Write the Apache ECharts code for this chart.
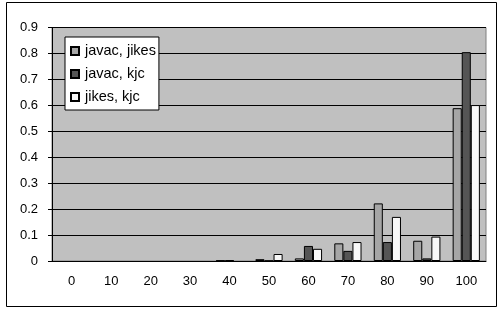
<!DOCTYPE html>
<html>
<head>
<meta charset="utf-8">
<script src="https://cdn.jsdelivr.net/npm/echarts@6/dist/echarts.min.js"></script>
<style>
  html, body { margin: 0; padding: 0; background: #fff; }
  #chart { width: 501px; height: 309px; }
</style>
</head>
<body>
<div id="chart"></div>
<script>
var categories = ['0', '10', '20', '30', '40', '50', '60', '70', '80', '90', '100'];
var javacJikes = [0, 0, 0, 0, 0.002, 0.007, 0.01, 0.068, 0.222, 0.078, 0.589];
var javacKjc   = [0, 0, 0, 0, 0.003, 0.001, 0.058, 0.039, 0.073, 0.01, 0.805];
var jikesKjc   = [0, 0, 0, 0, 0, 0.027, 0.047, 0.073, 0.17, 0.094, 0.601];
var yTicks = [0, 0.1, 0.2, 0.3, 0.4, 0.5, 0.6, 0.7, 0.8, 0.9];

try {
    var chart = echarts.init(document.getElementById('chart'));
    var font = 'Liberation Sans, Arial, sans-serif';
    function bar(name, data, color) {
        return {
            name: name,
            type: 'bar',
            // zero values have no visible bar in the original
            data: data.map(function (v) { return v === 0 ? '-' : v; }),
            barGap: '0%',
            barCategoryGap: '31%',
            itemStyle: { color: color, borderColor: '#000', borderWidth: 1 },
            emphasis: { disabled: true }
        };
    }
    var option = {
        animation: false,
        graphic: [{
            type: 'rect',
            shape: { x: 6.5, y: 2.5, width: 490, height: 304 },
            style: { fill: 'none', stroke: '#000', lineWidth: 1 },
            z: 0
        }],
        grid: {
            left: 52, right: 15, top: 27.5, bottom: 48,
            show: true, backgroundColor: '#c0c0c0', borderColor: '#808080', borderWidth: 1
        },
        legend: {
            orient: 'vertical',
            left: 65, top: 37,
            backgroundColor: '#fff',
            borderColor: '#000', borderWidth: 1, borderRadius: 0,
            padding: [6, 3, 5, 5],
            itemGap: 7,
            icon: 'rect',
            itemWidth: 8, itemHeight: 8,
            textStyle: { fontFamily: font, fontSize: 14.5, lineHeight: 16, color: '#000', padding: [0, 0, 0, 1] },
            data: ['javac, jikes', 'javac, kjc', 'jikes, kjc']
        },
        xAxis: {
            type: 'category',
            data: categories,
            axisLine: { lineStyle: { color: '#000', width: 1 } },
            axisTick: { inside: true, length: 4, lineStyle: { color: '#000' } },
            axisLabel: { fontFamily: font, fontSize: 13, color: '#000', margin: 14 }
        },
        yAxis: {
            type: 'value',
            min: 0, max: 0.9, interval: 0.1,
            axisLine: { show: true, lineStyle: { color: '#000', width: 1 } },
            axisTick: { show: true, length: 4, lineStyle: { color: '#000' } },
            splitLine: { show: true, lineStyle: { color: '#000', width: 1 } },
            axisLabel: {
                fontFamily: font, fontSize: 13, color: '#000', margin: 14,
                formatter: function (v) {
                    var t = yTicks.find(function (y) { return Math.abs(y - v) < 1e-6; });
                    return t === 0 ? '0' : String(t);
                }
            }
        },
        series: [
            bar('javac, jikes', javacJikes, '#a6a6a6'),
            bar('javac, kjc', javacKjc, '#555555'),
            bar('jikes, kjc', jikesKjc, '#f8f8f8')
        ]
    };
    chart.setOption(option);
} catch (error) {
    console.error('Failed to draw chart');
    console.error(error);
}
</script>
</body>
</html>
